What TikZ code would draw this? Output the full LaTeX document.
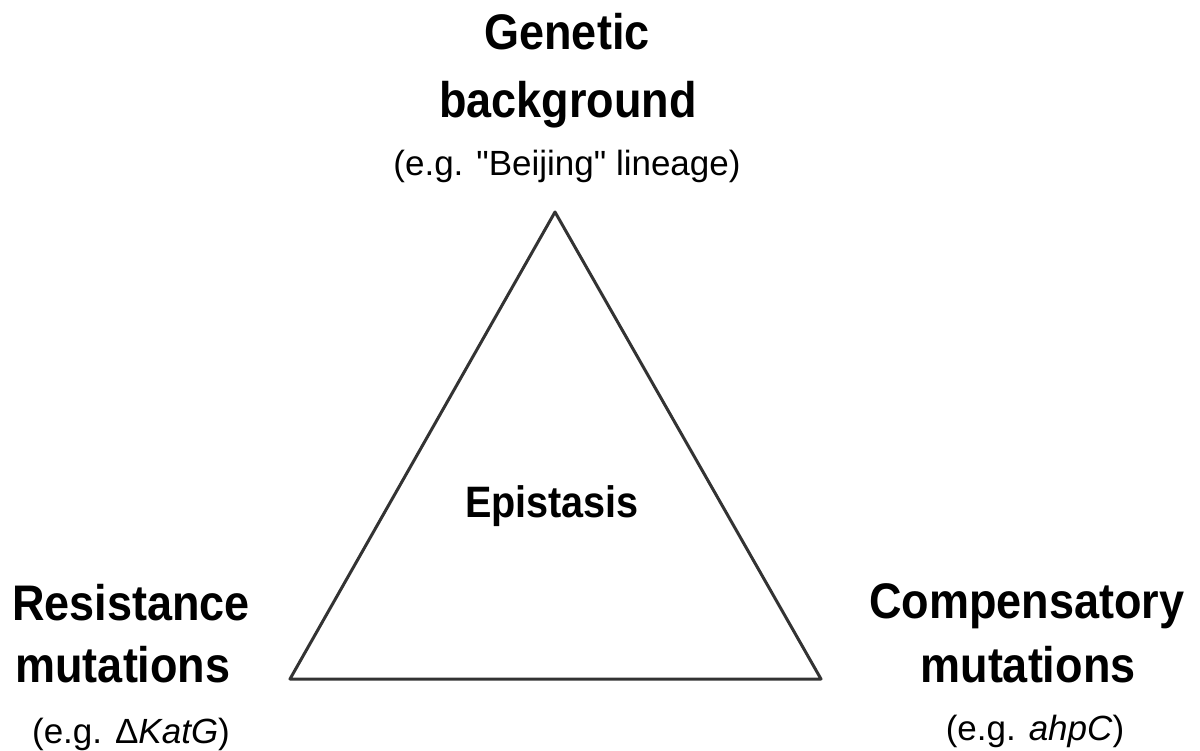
\documentclass[tikz,border=0pt]{standalone}
\usepackage{fontspec}
\setmainfont{Liberation Sans}
\newfontfamily\narrowfont{Liberation Sans}[FakeStretch=0.9]
\tikzset{
  headline/.style={font=\narrowfont\bfseries\fontsize{50}{60}\selectfont, anchor=base, inner sep=0pt},
  centerline/.style={font=\narrowfont\bfseries\fontsize{44}{52}\selectfont, anchor=base, inner sep=0pt},
  exampleline/.style={font=\fontsize{35}{42}\selectfont, anchor=base, inner sep=0pt},
  edge/.style={draw=black!80, line width=3pt, line join=round}
}
\begin{document}
\begin{tikzpicture}[x=1pt,y=-1pt]
\useasboundingbox (0,0) rectangle (1200,751);
% triangle corners
\coordinate (apex) at (555,212);
\coordinate (left) at (290,679);
\coordinate (right) at (821,679);
\draw[edge] (apex) -- (left) -- (right) -- cycle;
% top label
\node[headline] (gen1) at (567,50) {Genetic};
\node[headline] (gen2) at (568,118) {background};
\node[exampleline] (gen3) at (567,176) {(e.g. \textquotedbl Beijing\textquotedbl{} lineage)};
% center label
\node[centerline] (epi) at (552,517) {Epistasis};
% left label
\node[headline] (res1) at (131,620) {Resistance};
\node[headline] (res2) at (123,682) {mutations};
\node[exampleline] (res3) at (131,743) {(e.g. Δ\textit{KatG})};
% right label
\node[headline] (com1) at (1027,618) {Compensatory};
\node[headline] (com2) at (1028,682) {mutations};
\node[exampleline] (com3) at (1035,740) {(e.g. \textit{ahpC})};
\end{tikzpicture}
\end{document}
